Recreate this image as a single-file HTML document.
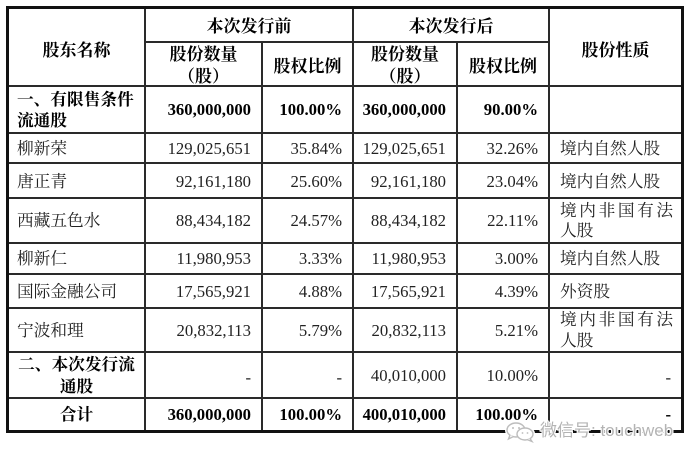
<!DOCTYPE html>
<html>
<head>
<meta charset="utf-8">
<style>
  html, body { margin: 0; padding: 0; background: #fff; }
  #wrap { position: relative; width: 700px; height: 464px; overflow: hidden; background: #fff;
    font-family: "Liberation Serif", "Noto Serif CJK SC", serif; color: #222; }
  .h { position: absolute; height: 2px; background: #2a2a2a; }
  .v { position: absolute; width: 2px; background: #2a2a2a; }
  .outer { position: absolute; left: 6px; top: 6px; width: 678px; height: 427px;
    border: 3px solid #111; box-sizing: border-box; }
  .c { position: absolute; display: flex; align-items: center; box-sizing: border-box;
    font-size: 16.7px; line-height: 21px; white-space: nowrap; }
  .r { justify-content: flex-end; padding-right: 10px; }
  .l { justify-content: flex-start; padding-left: 10px; }
  .m { justify-content: center; text-align: center; }
  .b { font-weight: bold; color: #000; }
  .hd { font-weight: bold; color: #000; font-size: 17px; }
  .just { letter-spacing: 2.6px; }
  #wm { position: absolute; left: 540px; top: 421px; font-family: "Liberation Sans", "Noto Sans CJK SC", sans-serif;
    font-size: 17px; line-height: 20px; color: #b4b4b4; white-space: nowrap;
    text-shadow: 1px 0 0 #fff, -1px 0 0 #fff, 0 1px 0 #fff, 0 -1px 0 #fff, 1px 1px 0 #fff, -1px -1px 0 #fff, 1px -1px 0 #fff, -1px 1px 0 #fff; }
</style>
</head>
<body>
<div id="wrap">
  <!-- outer border -->
  <div class="outer"></div>

  <!-- horizontal lines -->
  <div class="h" style="left:144px; width:405px; top:41px;"></div>
  <div class="h" style="left:9px; width:672px; top:85px;"></div>
  <div class="h" style="left:9px; width:672px; top:132px;"></div>
  <div class="h" style="left:9px; width:672px; top:162px;"></div>
  <div class="h" style="left:9px; width:672px; top:197px;"></div>
  <div class="h" style="left:9px; width:672px; top:242px;"></div>
  <div class="h" style="left:9px; width:672px; top:273px;"></div>
  <div class="h" style="left:9px; width:672px; top:307px;"></div>
  <div class="h" style="left:9px; width:672px; top:351px;"></div>
  <div class="h" style="left:9px; width:672px; top:397px;"></div>

  <!-- vertical lines -->
  <div class="v" style="left:144px; top:9px; height:421px;"></div>
  <div class="v" style="left:261px; top:41px; height:389px;"></div>
  <div class="v" style="left:352px; top:9px; height:421px;"></div>
  <div class="v" style="left:456px; top:41px; height:389px;"></div>
  <div class="v" style="left:548px; top:9px; height:421px;"></div>

  <!-- header -->
  <div class="c m hd" style="left:9px; width:135px; top:9px; height:77px; padding-top:5px;">股东名称</div>
  <div class="c m hd" style="left:146px; width:206px; top:9px; height:32px; padding-top:3px;">本次发行前</div>
  <div class="c m hd" style="left:354px; width:194px; top:9px; height:32px; padding-top:3px;">本次发行后</div>
  <div class="c m hd" style="left:550px; width:131px; top:9px; height:77px; padding-top:5px;">股份性质</div>
  <div class="c m hd" style="left:146px; width:115px; top:43px; height:42px; line-height:22px; padding-top:4px;">股份数量<br>（股）</div>
  <div class="c m hd" style="left:263px; width:89px; top:43px; height:42px; padding-top:5px;">股权比例</div>
  <div class="c m hd" style="left:354px; width:102px; top:43px; height:42px; line-height:22px; padding-top:4px;">股份数量<br>（股）</div>
  <div class="c m hd" style="left:458px; width:90px; top:43px; height:42px; padding-top:5px;">股权比例</div>

  <!-- row 1 -->
  <div class="c l b" style="left:7px; width:137px; top:87px; height:45px; line-height:20.5px; white-space:normal; padding-top:2px;">一、有限售条件<br>流通股</div>
  <div class="c r b" style="left:146px; width:115px; top:87px; height:45px;">360,000,000</div>
  <div class="c r b" style="left:263px; width:89px; top:87px; height:45px;">100.00%</div>
  <div class="c r b" style="left:354px; width:102px; top:87px; height:45px;">360,000,000</div>
  <div class="c r b" style="left:458px; width:90px; top:87px; height:45px;">90.00%</div>

  <!-- 柳新荣 -->
  <div class="c l" style="left:7px; width:137px; top:134px; height:28px;">柳新荣</div>
  <div class="c r" style="left:146px; width:115px; top:134px; height:28px;">129,025,651</div>
  <div class="c r" style="left:263px; width:89px; top:134px; height:28px;">35.84%</div>
  <div class="c r" style="left:354px; width:102px; top:134px; height:28px;">129,025,651</div>
  <div class="c r" style="left:458px; width:90px; top:134px; height:28px;">32.26%</div>
  <div class="c l" style="left:550px; width:131px; top:134px; height:28px;">境内自然人股</div>

  <!-- 唐正青 -->
  <div class="c l" style="left:7px; width:137px; top:164px; height:33px; padding-top:2px;">唐正青</div>
  <div class="c r" style="left:146px; width:115px; top:164px; height:33px; padding-top:1px;">92,161,180</div>
  <div class="c r" style="left:263px; width:89px; top:164px; height:33px; padding-top:1px;">25.60%</div>
  <div class="c r" style="left:354px; width:102px; top:164px; height:33px; padding-top:1px;">92,161,180</div>
  <div class="c r" style="left:458px; width:90px; top:164px; height:33px; padding-top:1px;">23.04%</div>
  <div class="c l" style="left:550px; width:131px; top:164px; height:33px; padding-top:2px;">境内自然人股</div>

  <!-- 西藏五色水 -->
  <div class="c l" style="left:7px; width:137px; top:199px; height:43px;">西藏五色水</div>
  <div class="c r" style="left:146px; width:115px; top:199px; height:43px;">88,434,182</div>
  <div class="c r" style="left:263px; width:89px; top:199px; height:43px;">24.57%</div>
  <div class="c r" style="left:354px; width:102px; top:199px; height:43px;">88,434,182</div>
  <div class="c r" style="left:458px; width:90px; top:199px; height:43px;">22.11%</div>
  <div class="c l" style="left:550px; width:131px; top:199px; height:43px; line-height:20px;"><div><span class="just">境内非国有法</span><br>人股</div></div>

  <!-- 柳新仁 -->
  <div class="c l" style="left:7px; width:137px; top:244px; height:29px;">柳新仁</div>
  <div class="c r" style="left:146px; width:115px; top:244px; height:29px;">11,980,953</div>
  <div class="c r" style="left:263px; width:89px; top:244px; height:29px;">3.33%</div>
  <div class="c r" style="left:354px; width:102px; top:244px; height:29px;">11,980,953</div>
  <div class="c r" style="left:458px; width:90px; top:244px; height:29px;">3.00%</div>
  <div class="c l" style="left:550px; width:131px; top:244px; height:29px;">境内自然人股</div>

  <!-- 国际金融公司 -->
  <div class="c l" style="left:7px; width:137px; top:275px; height:32px;">国际金融公司</div>
  <div class="c r" style="left:146px; width:115px; top:275px; height:32px;">17,565,921</div>
  <div class="c r" style="left:263px; width:89px; top:275px; height:32px;">4.88%</div>
  <div class="c r" style="left:354px; width:102px; top:275px; height:32px;">17,565,921</div>
  <div class="c r" style="left:458px; width:90px; top:275px; height:32px;">4.39%</div>
  <div class="c l" style="left:550px; width:131px; top:275px; height:32px;">外资股</div>

  <!-- 宁波和理 -->
  <div class="c l" style="left:7px; width:137px; top:309px; height:42px;">宁波和理</div>
  <div class="c r" style="left:146px; width:115px; top:309px; height:42px;">20,832,113</div>
  <div class="c r" style="left:263px; width:89px; top:309px; height:42px;">5.79%</div>
  <div class="c r" style="left:354px; width:102px; top:309px; height:42px;">20,832,113</div>
  <div class="c r" style="left:458px; width:90px; top:309px; height:42px;">5.21%</div>
  <div class="c l" style="left:550px; width:131px; top:309px; height:42px; line-height:21px;"><div><span class="just">境内非国有法</span><br>人股</div></div>

  <!-- 二、本次发行流通股 -->
  <div class="c m b" style="left:9px; width:135px; top:353px; height:44px; line-height:21.5px; padding-top:1px;">二、本次发行流<br>通股</div>
  <div class="c r" style="left:146px; width:115px; top:353px; height:44px; padding-top:4px;">-</div>
  <div class="c r" style="left:263px; width:89px; top:353px; height:44px; padding-top:4px;">-</div>
  <div class="c r" style="left:354px; width:102px; top:353px; height:44px;">40,010,000</div>
  <div class="c r" style="left:458px; width:90px; top:353px; height:44px;">10.00%</div>
  <div class="c r" style="left:550px; width:131px; top:353px; height:44px; padding-top:4px;">-</div>

  <!-- 合计 -->
  <div class="c m b" style="left:9px; width:135px; top:399px; height:31px;">合计</div>
  <div class="c r b" style="left:146px; width:115px; top:399px; height:31px;">360,000,000</div>
  <div class="c r b" style="left:263px; width:89px; top:399px; height:31px;">100.00%</div>
  <div class="c r b" style="left:354px; width:102px; top:399px; height:31px;">400,010,000</div>
  <div class="c r b" style="left:458px; width:90px; top:399px; height:31px;">100.00%</div>
  <div class="c r b" style="left:550px; width:131px; top:399px; height:31px;">-</div>

  <!-- watermark -->
  <svg style="position:absolute; left:505px; top:421px;" width="32" height="22" viewBox="0 0 32 22">
    <g fill="none" stroke="#fff" stroke-width="4">
      <ellipse cx="11" cy="9" rx="9" ry="7"/>
      <ellipse cx="20" cy="13" rx="8" ry="6"/>
    </g>
    <g fill="#fff" stroke="#bdbdbd" stroke-width="1.4">
      <ellipse cx="11" cy="9" rx="9" ry="7"/>
      <path d="M5 14 L3.5 18 L8.5 15.5"/>
      <ellipse cx="20" cy="13" rx="8" ry="6"/>
      <path d="M25 17.5 L27 20.5 L22 18.5"/>
    </g>
    <g fill="#bdbdbd">
      <circle cx="8" cy="7" r="1"/><circle cx="14" cy="7" r="1"/>
      <circle cx="17.5" cy="12" r="0.9"/><circle cx="22.5" cy="12" r="0.9"/>
    </g>
  </svg>
  <div id="wm">微信号: touchweb</div>
</div>
</body>
</html>
